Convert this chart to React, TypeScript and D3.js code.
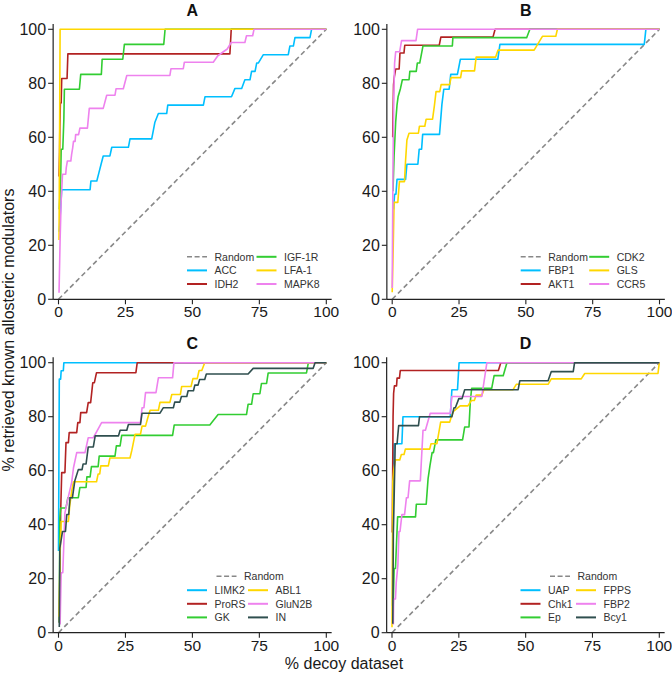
import React from "react";
import * as d3 from "d3";

type Pt = [number, number];

const X_TICKS = [0, 25, 50, 75, 100];
const Y_TICKS = [0, 20, 40, 60, 80, 100];
const RANDOM: Pt[] = [[0, 0], [100, 100]];

// Panel A
const A_ACC: Pt[] = [[0.3,25],[0.8,34],[1.2,40.6],[11.8,40.6],[12.1,43.8],[14.3,43.8],[15.1,46.9],[15.9,50],[16.7,53.1],[19.2,53.1],[19.9,56.3],[26.1,56.3],[26.7,59.4],[34.8,59.4],[35.4,62.5],[36,65.6],[37.3,68.8],[40.4,68.8],[40.8,71.9],[54.1,71.9],[54.7,75],[64.6,75],[65.9,78.1],[68.4,78.1],[69.6,81.3],[71.5,81.3],[72.1,84.4],[73.4,84.4],[74,87.5],[74.6,87.5],[76.5,90.6],[85.8,90.6],[86.4,93.8],[87.7,93.8],[88.3,96.9],[93.9,96.9],[94.5,100],[100,100]];
const A_IDH2: Pt[] = [[0.2,45.5],[0.4,54.5],[0.5,63.6],[0.7,72.7],[1.0,72.7],[1.2,81.8],[3.2,81.8],[3.5,90.9],[64,90.9],[64.5,100],[100,100]];
const A_IGF1R: Pt[] = [[0.3,33.3],[0.8,44.4],[1.0,55.6],[1.6,55.6],[2.0,66.7],[2.2,77.8],[7.8,77.8],[8.3,83.3],[16,83.3],[16.3,88.9],[24,88.9],[24.6,94.4],[39.3,94.4],[39.8,100],[100,100]];
const A_LFA1: Pt[] = [[0.2,22],[0.4,60],[0.6,100],[100,100]];
const A_MAPK8: Pt[] = [[0.2,2.4],[0.6,22],[1.0,36.6],[1.5,46.3],[2.7,46.3],[2.9,48.8],[3.3,51.2],[4.6,51.2],[4.9,53.7],[5.3,56.1],[5.6,58.5],[6.2,58.5],[6.4,61],[7.5,61],[8,63.4],[10.8,63.4],[11.5,70.7],[16.7,70.7],[18,75.6],[21.1,75.6],[21.5,78],[24.2,78],[25.5,82.9],[41.6,82.9],[42,85.4],[46.6,85.4],[47,87.8],[57.8,87.8],[59.5,90.2],[63,92.7],[64.5,95.1],[69.6,95.1],[70.2,97.6],[72.5,97.6],[73,100],[100,100]];

// Panel B
const B_FBP1: Pt[] = [[0.5,33.3],[0.9,38.9],[1.4,38.9],[1.8,44.4],[5.0,44.4],[5.5,50],[9.6,50],[10.1,55.6],[11,55.6],[11.4,61.1],[17.7,61.1],[18.6,72.2],[19.3,77.8],[21.3,77.8],[21.9,83.3],[24.4,83.3],[25.5,88.9],[39.5,88.9],[40.3,94.4],[94.3,94.4],[94.9,100],[100,100]];
const B_AKT1: Pt[] = [[0.2,60],[0.5,79.4],[0.8,82.4],[1.3,85.3],[2.6,85.3],[2.9,91.2],[4.4,91.2],[4.7,94.1],[17.6,94.1],[18.2,97.1],[37.7,97.1],[38.5,100],[100,100]];
const B_CDK2: Pt[] = [[0.3,40],[0.7,53.1],[1.0,59.4],[1.3,65.6],[1.8,71.9],[2.2,75],[3.1,78.1],[3.8,81.3],[6.3,81.3],[6.6,84.4],[9.0,84.4],[9.4,87.5],[10.3,87.5],[11.5,93.8],[22.5,93.8],[22.7,96.9],[50.3,96.9],[51.5,100],[100,100]];
const B_GLS: Pt[] = [[0,2.6],[0.4,20],[0.7,35.9],[2.1,35.9],[2.7,43.6],[4.6,43.6],[5.0,51.3],[5.5,59],[6.3,61.5],[9.8,61.5],[10.2,64.1],[12.2,64.1],[12.7,66.7],[15.1,66.7],[15.8,71.8],[16.4,76.9],[17.8,76.9],[18.3,79.5],[21.5,79.5],[22,82.1],[25.6,82.1],[26,84.6],[30.8,84.6],[31.4,89.7],[38.7,89.7],[39.6,92.3],[53.1,92.3],[56.2,97.4],[61.2,97.4],[61.8,100],[100,100]];
const B_CCR5: Pt[] = [[0,4.2],[0.3,50],[0.6,75],[0.9,87.5],[1.3,91.7],[2.8,91.7],[3.5,95.8],[8.9,95.8],[9.5,100],[100,100]];

// Panel C
const C_LIMK2: Pt[] = [[0,30.3],[0.3,93.9],[0.8,93.9],[1.0,97],[1.8,97],[2.0,100],[100,100]];
const C_ProRS: Pt[] = [[0.3,3.7],[0.8,44.4],[1.2,59.3],[2.4,59.3],[2.8,70.4],[3.7,70.4],[4.0,74.1],[6.8,74.1],[7.2,77.8],[8.0,77.8],[8.3,81.5],[10.5,81.5],[11.1,85.2],[12.0,85.2],[12.8,92.6],[13.4,92.6],[14.2,96.3],[28.9,96.3],[29.4,100],[100,100]];
const C_GK: Pt[] = [[0.3,3.8],[0.5,42.3],[0.8,46.2],[2.8,46.2],[3.5,50],[7.4,50],[8.0,53.8],[10.3,53.8],[10.6,57.7],[11.8,57.7],[12.3,61.5],[14.8,61.5],[15.2,65.4],[21.1,65.4],[21.6,69.2],[23,69.2],[23.6,73.1],[42.6,73.1],[43.2,76.9],[56.5,76.9],[59.6,80.8],[70.2,80.8],[70.8,84.6],[72.1,84.6],[72.7,88.5],[75.2,88.5],[75.8,92.3],[77.7,92.3],[78.3,96.2],[92.6,96.2],[93.3,100],[100,100]];
const C_ABL1: Pt[] = [[0.2,5.9],[0.6,29.4],[1.0,41.2],[3.7,41.2],[4.2,47.1],[5.0,52.9],[5.6,55.9],[14.2,55.9],[14.8,58.8],[15.4,58.8],[15.8,61.8],[18.6,61.8],[19.2,64.7],[26.7,64.7],[27.4,67.6],[28,70.6],[28.6,73.5],[30.6,73.5],[31.2,76.5],[32.5,76.5],[33.3,79.4],[34.2,82.4],[37.3,82.4],[37.9,85.3],[41.6,85.3],[42.3,88.2],[45.5,88.2],[46,91.2],[49.5,91.2],[50.2,94.1],[51.8,94.1],[52.5,97.1],[53.5,97.1],[54.6,100],[100,100]];
const C_GluN2B: Pt[] = [[0.6,3],[1.0,22.2],[1.6,22.2],[2.4,44.4],[3.6,50],[4.9,55.6],[5.6,61.1],[6.8,66.7],[9.9,66.7],[11.1,72.2],[13,72.2],[16.1,77.8],[30.6,77.8],[31.2,83.3],[31.9,83.3],[32.5,88.9],[36.4,88.9],[37.3,94.4],[42.6,94.4],[43.1,100],[100,100]];
const C_IN: Pt[] = [[0.3,2.1],[0.5,31.3],[1.5,37.5],[2.6,37.5],[3.1,43.8],[3.8,43.8],[4.3,50],[5.2,50],[6.1,56.3],[7.4,60.4],[8.8,60.4],[9.2,62.5],[10.3,62.5],[11.1,68.8],[13,68.8],[13.7,72.9],[22.4,72.9],[23,75],[25.5,75],[26.1,77.1],[30.6,77.1],[31.2,81.3],[37.9,81.3],[39.1,83.3],[42.9,83.3],[43.4,85.4],[45.3,85.4],[45.9,87.5],[47.9,87.5],[48.4,89.6],[50.4,89.6],[50.9,91.7],[52.1,91.7],[52.7,93.8],[54.6,93.8],[55.2,95.8],[70.8,95.8],[72.7,97.9],[95.1,97.9],[95.8,100],[100,100]];

// Panel D
const D_UAP: Pt[] = [[0.2,10],[0.5,60],[0.8,70],[3.7,70],[4.1,80],[21.8,80],[22.4,90],[24.5,90],[25.1,100],[100,100]];
const D_Chk1: Pt[] = [[0.1,37.1],[0.4,80],[0.6,88.6],[0.9,91.4],[1.7,91.4],[1.9,94.3],[2.8,94.3],[3.1,97.1],[39.8,97.1],[40.7,100],[100,100]];
const D_Ep: Pt[] = [[0.3,4.8],[0.8,23.8],[1.3,23.8],[2.1,42.9],[8.8,42.9],[9.1,47.6],[12.8,47.6],[13.5,57.1],[14.2,61.9],[15,66.7],[15.5,66.7],[16.4,71.4],[26.4,71.4],[27.2,76.2],[28.8,76.2],[29.3,85.7],[29.8,90.5],[37.3,90.5],[38.2,95.2],[41.6,95.2],[43,100],[100,100]];
const D_FPPS: Pt[] = [[0,2],[0.3,56],[0.6,60],[1.3,64],[2.9,64],[3.5,66],[4.5,66],[5,68],[14.1,68],[14.6,70],[16.8,70],[18.2,78],[21.6,78],[22.2,80],[23,82],[25.5,84],[28.4,84],[29.7,86],[30.8,86],[31.5,88],[33.6,88],[34.4,90],[45.3,90],[46.5,92],[58.4,92],[59.6,94],[70.8,94],[72.1,96],[99.5,96],[100,100]];
const D_FBP2: Pt[] = [[0.5,3],[0.6,12.5],[1.3,12.5],[1.6,18.75],[2.2,25],[2.6,37.5],[3.0,37.5],[3.7,43.75],[4.7,43.75],[5.4,50],[6.0,50],[6.6,56.25],[10.6,56.25],[11.6,75],[12.5,75],[14.3,81.25],[21.8,81.25],[22.4,87.5],[33.6,87.5],[35.5,100],[100,100]];
const D_Bcy1: Pt[] = [[0.3,3.3],[0.5,36.7],[0.8,50],[1.2,70],[1.9,70],[2.5,76.7],[9.9,76.7],[10.3,80],[22.4,80],[23.2,83.3],[23.7,83.3],[25.0,86.7],[26.2,86.7],[27.2,90],[47.2,90],[47.8,93.3],[58.4,93.3],[59.6,96.7],[67.8,96.7],[68.3,100],[100,100]];

const NAMES_A = ["ACC", "IDH2", "IGF-1R", "LFA-1", "MAPK8"];
const NAMES_B = ["FBP1", "AKT1", "CDK2", "GLS", "CCR5"];
const NAMES_C = ["LIMK2", "ProRS", "GK", "ABL1", "GluN2B", "IN"];
const NAMES_D = ["UAP", "Chk1", "Ep", "FPPS", "FBP2", "Bcy1"];

const CYAN = "#00BFFF", RED = "#B22222", GREEN = "#32CD32", GOLD = "#FFD700", VIOLET = "#EE82EE", SLATE = "#2F4F4F";
const FONT = "'Liberation Sans', Arial, Helvetica, sans-serif";
const AXIS_COLOR = "#222";

type Panel = {
  title: string;
  names: string[];
  data: Pt[][];
  colors: string[];
  x0: number; x1: number; yTop: number; yBot: number;
  legendMode: "cols3" | "randomTop";
  col2: number;
};

const PANELS: Panel[] = [
  { title: "A", names: NAMES_A, data: [A_ACC, A_IDH2, A_IGF1R, A_LFA1, A_MAPK8], colors: [CYAN, RED, GREEN, GOLD, VIOLET],
    x0: 58.5, x1: 326.3, yTop: 29.3, yBot: 299.3, legendMode: "cols3", col2: 198 },
  { title: "B", names: NAMES_B, data: [B_FBP1, B_AKT1, B_CDK2, B_GLS, B_CCR5], colors: [CYAN, RED, GREEN, GOLD, VIOLET],
    x0: 392.2, x1: 659.5, yTop: 29.3, yBot: 299.3, legendMode: "cols3", col2: 197 },
  { title: "C", names: NAMES_C, data: [C_LIMK2, C_ProRS, C_GK, C_ABL1, C_GluN2B, C_IN], colors: [CYAN, RED, GREEN, GOLD, VIOLET, SLATE],
    x0: 58.5, x1: 326.3, yTop: 362.7, yBot: 632.7, legendMode: "randomTop", col2: 189.5 },
  { title: "D", names: NAMES_D, data: [D_UAP, D_Chk1, D_Ep, D_FPPS, D_FBP2, D_Bcy1], colors: [CYAN, RED, GREEN, GOLD, VIOLET, SLATE],
    x0: 392, x1: 659.3, yTop: 362.7, yBot: 632.7, legendMode: "randomTop", col2: 184 },
];

function LegendItem({ x, y, label, color, dashed }: { x: number; y: number; label: string; color: string; dashed?: boolean }) {
  return (
    <g>
      <line x1={x} x2={x + 20} y1={y} y2={y} stroke={color} strokeWidth={dashed ? 1.6 : 2} strokeDasharray={dashed ? "5,2.6" : undefined} />
      <text x={x + 27.5} y={y} dominantBaseline="central" fontSize={10.5} fill="#333" fontFamily={FONT}>{label}</text>
    </g>
  );
}

function PanelView({ p }: { p: Panel }) {
  const xs = d3.scaleLinear().domain([0, 100]).range([p.x0, p.x1]);
  const ys = d3.scaleLinear().domain([0, 100]).range([p.yBot, p.yTop]);
  const line = d3.line<Pt>().x((d) => xs(d[0])).y((d) => ys(d[1]));
  const exp = (p.x1 - p.x0) * 0.02;
  const axL = p.x0 - exp;
  const rowGap = 13.6;
  const lastRow = p.yBot - 15.3;
  const rows = [lastRow - 2 * rowGap, lastRow - rowGap, lastRow];
  const legendItems: React.ReactNode[] = [];
  if (p.legendMode === "cols3") {
    const entries = [{ n: "Random", c: "#888", dashed: true }, ...p.names.map((n, i) => ({ n, c: p.colors[i], dashed: false }))];
    entries.forEach((e, i) => {
      const col = Math.floor(i / 3), row = i % 3;
      legendItems.push(<LegendItem key={e.n} x={p.x0 + (col === 0 ? 128.5 : p.col2)} y={rows[row]} label={e.n} color={e.c} dashed={e.dashed} />);
    });
  } else {
    legendItems.push(<LegendItem key="Random" x={p.x0 + 158} y={lastRow - 3 * rowGap - 0.3} label="Random" color="#888" dashed />);
    p.names.forEach((n, i) => {
      const col = Math.floor(i / 3), row = i % 3;
      legendItems.push(<LegendItem key={n} x={p.x0 + (col === 0 ? 128.5 : p.col2)} y={rows[row]} label={n} color={p.colors[i]} />);
    });
  }
  return (
    <g>
      <text x={(p.x0 + p.x1) / 2} y={p.yTop - 13.5} textAnchor="middle" fontSize={16} fontWeight="bold" fontFamily={FONT} fill="#111">{p.title}</text>
      <path d={line(RANDOM) || ""} fill="none" stroke="#888" strokeWidth={1.6} strokeDasharray="5,3.2" />
      {p.data.map((d, i) => (
        <path key={p.names[i]} d={line(d) || ""} fill="none" stroke={p.colors[i]} strokeWidth={1.6} strokeLinejoin="round" />
      ))}
      <line x1={axL} x2={axL} y1={p.yTop - exp} y2={p.yBot} stroke={AXIS_COLOR} strokeWidth={1.2} />
      <line x1={axL} x2={p.x1 + exp} y1={p.yBot} y2={p.yBot} stroke={AXIS_COLOR} strokeWidth={1.2} />
      {Y_TICKS.map((t) => (
        <g key={"y" + t}>
          <line x1={axL - 5} x2={axL} y1={ys(t)} y2={ys(t)} stroke={AXIS_COLOR} strokeWidth={1.1} />
          <text x={axL - 7} y={ys(t)} textAnchor="end" dominantBaseline="central" fontSize={16} fill="#1a1a1a" fontFamily={FONT}>{t}</text>
        </g>
      ))}
      {X_TICKS.map((t) => (
        <g key={"x" + t}>
          <line x1={xs(t)} x2={xs(t)} y1={p.yBot} y2={p.yBot + 5} stroke={AXIS_COLOR} strokeWidth={1.1} />
          <text x={xs(t)} y={p.yBot + 18} textAnchor="middle" fontSize={15.5} fill="#1a1a1a" fontFamily={FONT}>{t}</text>
        </g>
      ))}
      {legendItems}
    </g>
  );
}

export default function App() {
  return (
    <svg width={672} height={673} style={{ display: "block", position: "absolute", left: 0, top: 0, background: "#fff" }}>
      <rect width={672} height={673} fill="#fff" />
      {PANELS.map((p) => <PanelView key={p.title} p={p} />)}
      <text transform="translate(14,330) rotate(-90)" textAnchor="middle" fontSize={16} fill="#1a1a1a" fontFamily={FONT}>% retrieved known allosteric modulators</text>
      <text x={344} y={669} textAnchor="middle" fontSize={16} fill="#1a1a1a" fontFamily={FONT}>% decoy dataset</text>
    </svg>
  );
}
